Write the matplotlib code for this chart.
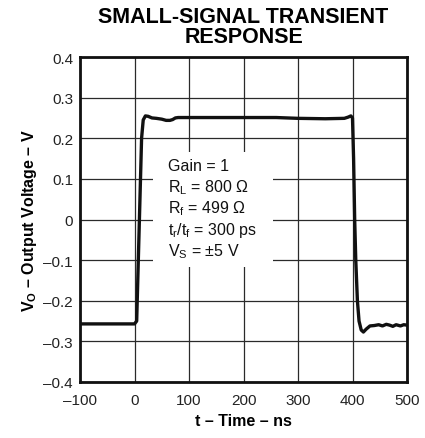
import matplotlib
matplotlib.use("Agg")
from matplotlib import pyplot as plt

plt.rcParams["font.family"] = ["Liberation Sans", "DejaVu Sans"]
plt.rcParams["mathtext.fontset"] = "custom"
plt.rcParams["mathtext.rm"] = "Liberation Sans"
plt.rcParams["mathtext.it"] = "Liberation Sans:italic"
plt.rcParams["mathtext.bf"] = "Liberation Sans:bold"

# waveform
t_ns = [-100, -50, 0, 4, 7, 10, 13, 16, 20, 25, 32, 40, 50, 58, 65, 70, 75, 80,
        100, 200, 260, 300, 350, 385, 392, 397, 400, 402, 404, 406, 409, 412,
        416, 420, 425, 432, 440, 448, 455, 462, 468, 474, 480, 488, 494, 500]
v_out = [-0.257, -0.257, -0.257, -0.25, -0.1, 0.05, 0.2, 0.245, 0.255, 0.254,
         0.25, 0.249, 0.247, 0.244, 0.244, 0.246, 0.25, 0.251,
         0.251, 0.251, 0.251, 0.249, 0.248, 0.249, 0.252, 0.255, 0.25, 0.15,
         0.0, -0.1, -0.2, -0.25, -0.272, -0.277, -0.27, -0.262, -0.261, -0.259,
         -0.262, -0.258, -0.26, -0.263, -0.259, -0.262, -0.259, -0.26]

x_ticks = [-100, 0, 100, 200, 300, 400, 500]
x_labels = ["\u2013100", "0", "100", "200", "300", "400", "500"]
y_ticks = [-0.4, -0.3, -0.2, -0.1, 0, 0.1, 0.2, 0.3, 0.4]
y_labels = ["\u20130.4", "\u20130.3", "\u20130.2", "\u20130.1", "0", "0.1", "0.2", "0.3", "0.4"]

notes = ["Gain = 1",
         "R$_\\mathrm{L}$ = 800 \u03a9",
         "R$_\\mathrm{f}$ = 499 \u03a9",
         "t$_\\mathrm{r}$/t$_\\mathrm{f}$ = 300 ps",
         "V$_\\mathrm{S}$ = \u00b15 V"]

fig = plt.figure(figsize=(4.25, 4.39), dpi=100)
ax = fig.add_axes([80 / 425, 1 - 383 / 439, 327 / 425, 325 / 439])

ax.plot(t_ns, v_out, color="#111111", lw=2.4, zorder=4, solid_joinstyle="round")

ax.set_xlim(-100, 500)
ax.set_ylim(-0.4, 0.4)
ax.set_xticks(x_ticks)
ax.set_xticklabels(x_labels)
ax.set_yticks(y_ticks)
ax.set_yticklabels(y_labels)
ax.tick_params(length=0, labelsize=11, colors="#222222")
ax.tick_params(axis="x", pad=8)
ax.tick_params(axis="y", pad=5)
ax.grid(True, color="#2a2a2a", lw=0.9)
ax.set_axisbelow(True)
for s in ax.spines.values():
    s.set_linewidth(2)
    s.set_color("#111111")

# white patch behind the notes
ax.add_patch(plt.Rectangle((34, -0.117), 220, 0.283, facecolor="white",
                           edgecolor="none", zorder=2))
for i, line in enumerate(notes):
    ax.text(61, 0.132 - i * 0.052, line, fontsize=11.5, va="center", ha="left",
            color="#111111", zorder=3)

ax.set_xlabel("t \u2013 Time \u2013 ns", fontsize=11.5, fontweight="bold", labelpad=4)
ax.set_ylabel("V$_\\mathbf{O}$ \u2013 Output Voltage \u2013 V", fontsize=11.5,
              fontweight="bold", labelpad=3)
ax.set_title("SMALL-SIGNAL TRANSIENT\nRESPONSE", fontsize=15.5, fontweight="bold",
             linespacing=0.93, pad=11)

fig.savefig("out.png", dpi=100)
